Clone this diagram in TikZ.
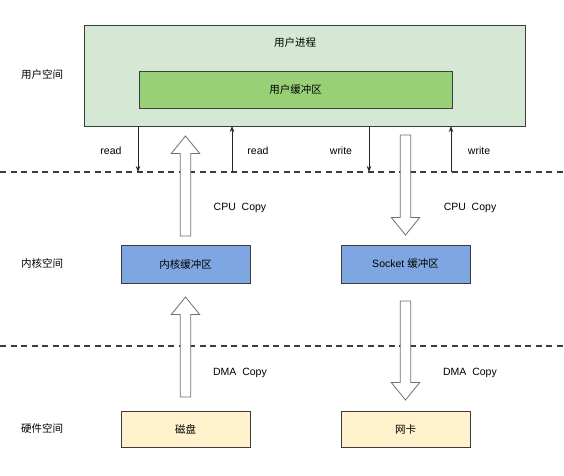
\documentclass[tikz,border=0pt]{standalone}
\usepackage{fontspec}
\setmainfont{Liberation Sans}
\newfontfamily\cjk{Noto Sans CJK SC}
\usetikzlibrary{arrows.meta,calc}
\definecolor{procgreen}{HTML}{D5E8D4}
\definecolor{bufgreen}{HTML}{97D077}
\definecolor{kblue}{HTML}{7EA6E0}
\definecolor{hwyellow}{HTML}{FFF2CC}
\definecolor{edge}{HTML}{3C3C3C}
\definecolor{hedge}{HTML}{707070}
\tikzset{
  box/.style={draw=edge, line width=0.8pt, inner sep=0pt, font=\fontsize{10.5}{12}\selectfont},
  lbl/.style={font=\fontsize{10.5}{12}\selectfont, inner sep=0pt},
  sep/.style={draw=edge, line width=1.6pt, dash pattern=on 6pt off 4.5pt},
  thin/.style={draw=black!85, line width=0.7pt, -{Stealth[length=6pt,width=4.5pt]}},
  hollow/.style={draw=hedge, fill=white, line width=0.8pt, line join=miter},
}
\newcommand\hollowarrow[3]{% x, tail y, tip y
  \pgfmathsetmacro\dirsgn{((#3)<(#2))?1:-1}
  \draw[hollow] (#1-5.2,#2) -- (#1-5.2,#3+\dirsgn*17.5) -- (#1-14.2,#3+\dirsgn*17.5)
    -- (#1,#3) -- (#1+14.2,#3+\dirsgn*17.5) -- (#1+5.2,#3+\dirsgn*17.5) -- (#1+5.2,#2) -- cycle;}
\begin{document}
\begin{tikzpicture}[x=1pt,y=-1pt]
\useasboundingbox (0,0) rectangle (564,475);
% user process
\node[box, fill=procgreen, minimum width=441pt, minimum height=101pt, anchor=north west] (proc) at (84,25) {};
\node[lbl] (proct) at (295,43) {\cjk 用户进程};
\node[box, fill=bufgreen, minimum width=313pt, minimum height=37pt] (ubuf) at (295.5,89.5) {\cjk 用户缓冲区};
% separators
\coordinate (s1l) at (0,172); \coordinate (s1r) at (564,172);
\coordinate (s2l) at (0,346); \coordinate (s2r) at (564,346);
\draw[sep] (s1l) -- (s1r);
\draw[sep] (s2l) -- (s2r);
% kernel boxes
\node[box, fill=kblue, minimum width=129pt, minimum height=38pt] (kbuf) at (185.5,264) {\cjk 内核缓冲区};
\node[box, fill=kblue, minimum width=129pt, minimum height=38pt] (sbuf) at (405.5,264) {Socket {\cjk 缓冲区}};
% hardware boxes
\node[box, fill=hwyellow, minimum width=129pt, minimum height=36pt] (disk) at (185.5,429) {\cjk 磁盘};
\node[box, fill=hwyellow, minimum width=129pt, minimum height=36pt] (nic) at (405.5,429) {\cjk 网卡};
% side labels
\node[lbl] (lu) at (42,75) {\cjk 用户空间};
\node[lbl] (lk) at (42,263) {\cjk 内核空间};
\node[lbl] (lh) at (42,428) {\cjk 硬件空间};
% thin read/write arrows
\coordinate (r1a) at (138,126); \coordinate (r1b) at (138,172);
\coordinate (r2a) at (232,172); \coordinate (r2b) at (232,126);
\coordinate (w1a) at (369,126); \coordinate (w1b) at (369,172);
\coordinate (w2a) at (451,172); \coordinate (w2b) at (451,126);
\draw[thin] (r1a) -- (r1b);
\draw[thin] (r2a) -- (r2b);
\draw[thin] (w1a) -- (w1b);
\draw[thin] (w2a) -- (w2b);
\node[lbl] (tr1) at (111,151) {read};
\node[lbl] (tr2) at (258,151) {read};
\node[lbl] (tw1) at (341,151) {write};
\node[lbl] (tw2) at (479,151) {write};
% hollow copy arrows
\hollowarrow{185.5}{236}{136}
\hollowarrow{405.5}{135}{235}
\hollowarrow{185.5}{397}{297}
\hollowarrow{405.5}{301}{400}
\node[lbl] (c1) at (240,208) {CPU\ \ Copy};
\node[lbl] (c2) at (470,208) {CPU\ \ Copy};
\node[lbl] (d1) at (240,373) {DMA\ \ Copy};
\node[lbl] (d2) at (470,373) {DMA\ \ Copy};
\end{tikzpicture}
\end{document}
